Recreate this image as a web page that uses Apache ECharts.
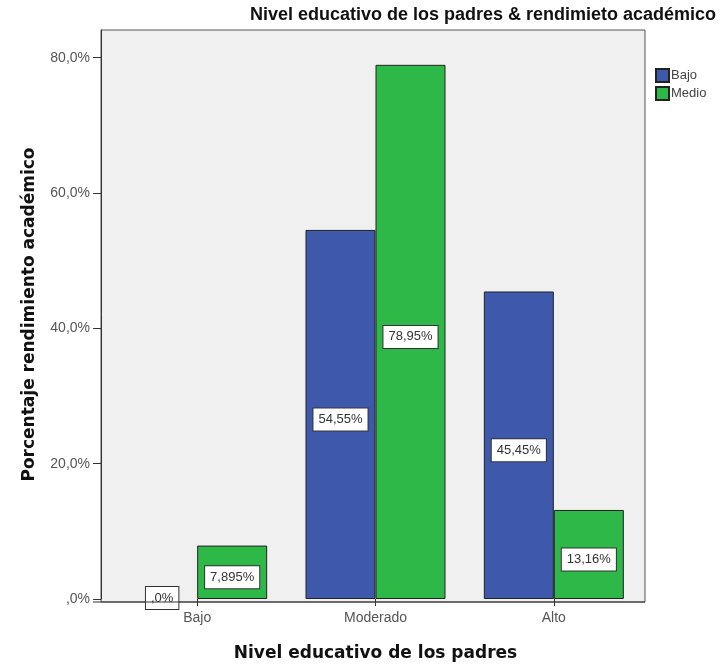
<!DOCTYPE html>
<html>
<head>
<meta charset="utf-8">
<script src="https://cdn.jsdelivr.net/npm/echarts@6/dist/echarts.min.js"></script>
<style>html,body{margin:0;padding:0;background:#fff;}#c{width:721px;height:667px;}</style>
</head>
<body>
<div id="c"></div>
<script>
var categories = ['Bajo', 'Moderado', 'Alto'];
var seriesNames = ['Bajo', 'Medio'];
var bajoValues = [0, 54.55, 45.45];
var medioValues = [7.895, 78.95, 13.16];
var bajoLabels = [',0%', '54,55%', '45,45%'];
var medioLabels = ['7,895%', '78,95%', '13,16%'];
var yTickValues = [0, 20, 40, 60, 80];
var yTickLabels = [',0%', '20,0%', '40,0%', '60,0%', '80,0%'];

var chart = echarts.init(document.getElementById('c'), null, { renderer: 'canvas' });
var font = '"Liberation Sans", Arial, sans-serif';
var boldFont = '"DejaVu Sans", Verdana, sans-serif';
function lbl(texts) {
  return {
    show: true, position: 'inside', offset: [0, 5],
    formatter: function (p) { return texts[p.dataIndex]; },
    color: '#333', fontSize: 13, fontFamily: font,
    backgroundColor: '#ffffff', borderColor: '#333', borderWidth: 1,
    padding: [5, 5, 4, 5]
  };
}
function barData(values) {
  return values.map(function (v) {
    return v === 0 ? { value: v, itemStyle: { borderWidth: 0 }, label: { offset: [0, -1] } } : v;
  });
}
chart.setOption({
  animation: false,
  textStyle: { fontFamily: font },
  title: {
    text: 'Nivel educativo de los padres & rendimieto académico',
    left: 478, top: 1, textAlign: 'center',
    textStyle: { fontSize: 18, fontWeight: 'bold', color: '#111', fontFamily: font }
  },
  legend: {
    orient: 'vertical', left: 650, top: 63, itemWidth: 13, itemHeight: 13, itemGap: 3,
    icon: 'rect',
    textStyle: { fontSize: 13, color: '#444', padding: [0, 0, 0, -3] },
    data: seriesNames
  },
  graphic: [{
    type: 'rect', z: -10, silent: true,
    shape: { x: 101, y: 30, width: 544, height: 572 },
    style: { fill: '#f0f0f0', stroke: '#555', lineWidth: 1 }
  }, {
    type: 'line', z: 50, silent: true,
    shape: { x1: 93, y1: 602, x2: 645, y2: 602 },
    style: { stroke: '#333', lineWidth: 1 }
  }],
  grid: { left: 108, right: 78, top: 30, bottom: 65 },
  xAxis: {
    type: 'category', data: categories,
    name: 'Nivel educativo de los padres', nameLocation: 'middle', nameGap: 46,
    nameTextStyle: { fontSize: 17, fontWeight: 'bold', color: '#111', fontFamily: boldFont },
    axisLine: { show: false },
    axisTick: { show: true, alignWithLabel: true, length: 7, lineStyle: { color: '#333' } },
    axisLabel: { fontSize: 14, color: '#555', margin: 12 }
  },
  yAxis: {
    type: 'value', min: 0, max: 84.1, interval: 20, offset: 7,
    name: 'Porcentaje rendimiento académico', nameLocation: 'middle', nameGap: 63,
    nameTextStyle: { fontSize: 17, fontWeight: 'bold', color: '#111', fontFamily: boldFont },
    axisLine: { show: true, lineStyle: { color: '#333' } },
    axisTick: { show: true, length: 8, customValues: yTickValues, lineStyle: { color: '#333' } },
    splitLine: { show: false },
    axisLabel: {
      fontSize: 14, color: '#555', margin: 11, customValues: yTickValues,
      formatter: function (v) { return yTickLabels[yTickValues.indexOf(v)]; }
    }
  },
  series: [
    { name: 'Bajo', type: 'bar', data: barData(bajoValues), barWidth: 70, barGap: '0%',
      itemStyle: { color: '#3e58ac', borderColor: '#222', borderWidth: 1 }, label: lbl(bajoLabels) },
    { name: 'Medio', type: 'bar', data: barData(medioValues), barWidth: 70,
      itemStyle: { color: '#2eb848', borderColor: '#222', borderWidth: 1 }, label: lbl(medioLabels) }
  ]
});
</script>
</body>
</html>
